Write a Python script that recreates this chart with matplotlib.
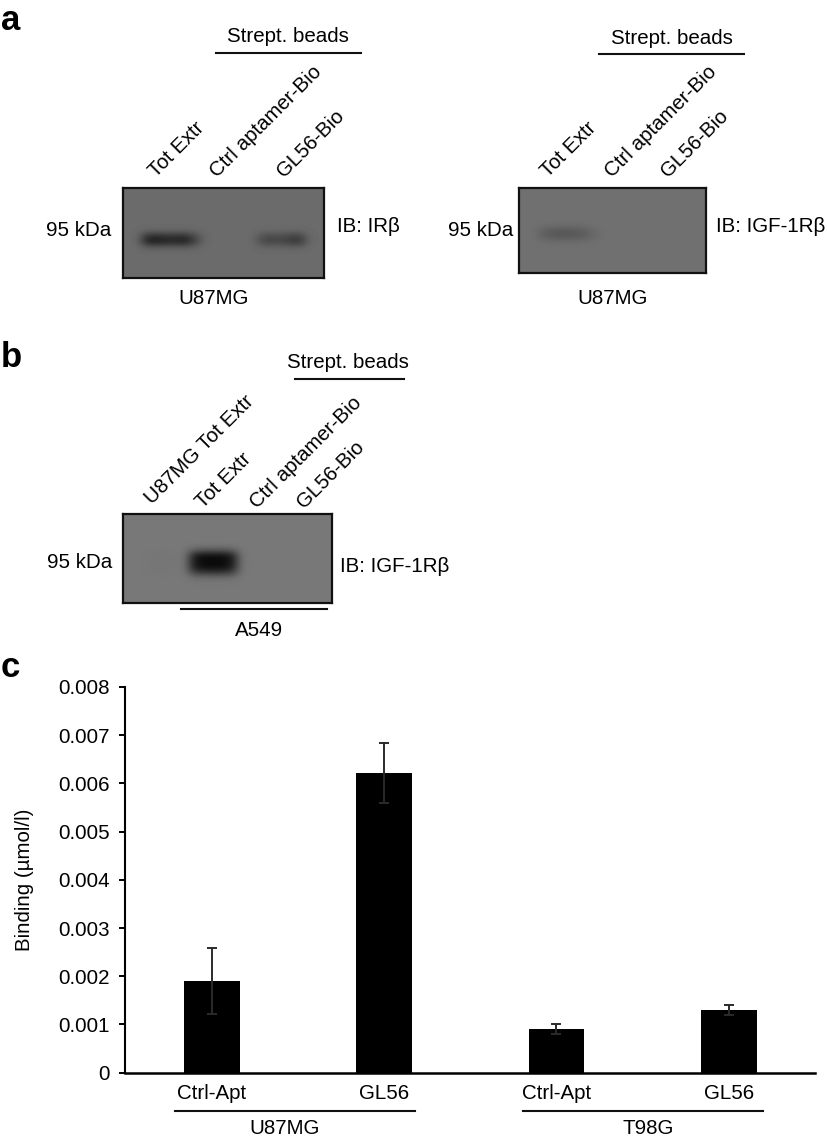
"""Panel figure: three immunoblots (a, b) and a binding bar chart (c)."""
import numpy as np
import matplotlib
matplotlib.use("Agg")
import matplotlib.pyplot as plt

W, H = 829, 1140

# bar chart values
categories = ["Ctrl-Apt", "GL56", "Ctrl-Apt", "GL56"]
binding = [0.0019, 0.00622, 0.00091, 0.0013]
binding_err = [0.00068, 0.00062, 0.00011, 0.00011]
y_ticks = [0, 0.001, 0.002, 0.003, 0.004, 0.005, 0.006, 0.007, 0.008]
y_tick_labels = ["0", "0.001", "0.002", "0.003", "0.004", "0.005", "0.006", "0.007", "0.008"]

# blot darkness read along the lanes (left to right) and across the band (top to bottom)
blot_a1_lanes = [0, 0.02, 0.9, 1, 0.9, 0.9, 0.95, 0.55, 0.03, 0, 0, 0, 0, 0, 0.4, 0.5, 0.45, 0.6, 0.65, 0.05, 0]
blot_a1_rows = [0, 0, 0, 0, 0, 0, 0, 0.06, 0.7, 0.95, 0.2, 0, 0, 0, 0, 0]
blot_a2_lanes = [0, 0, 0.55, 0.75, 0.85, 0.8, 0.65, 0.3, 0.02, 0, 0, 0, 0, 0, 0, 0, 0, 0, 0]
blot_a2_rows = [0, 0, 0, 0, 0, 0, 0.1, 0.75, 0.8, 0.15, 0, 0, 0, 0, 0]
blot_b_lanes = [0, 0, 0.01, 0.02, 0.02, 0.01, 0.02, 0.85, 1, 1, 1, 0.85, 0.03, 0, 0, 0, 0, 0, 0, 0, 0, 0]
blot_b_rows = [0, 0, 0, 0, 0, 0, 0.3, 0.98, 1, 0.98, 0.6, 0.08, 0.01, 0, 0, 0]


def px_axes(fig, x0, y0, x1, y1):
    """Axes placed from pixel corners of the figure (y measured from the top)."""
    return fig.add_axes([x0 / W, 1 - y1 / H, (x1 - x0) / W, (y1 - y0) / H])


def draw_blot(fig, box, lanes, rows, background, depth):
    """Draw one blot as a smoothed grey image with a black frame."""
    ax = px_axes(fig, *box)
    gel = background - depth * np.outer(rows, lanes)
    ax.imshow(gel, cmap="gray", vmin=0, vmax=1, aspect="auto", interpolation="bicubic")
    ax.set_xticks([])
    ax.set_yticks([])
    for spine in ax.spines.values():
        spine.set_linewidth(1.6)
        spine.set_color("#111111")


def main():
    plt.rcParams.update({"font.family": ["Liberation Sans", "DejaVu Sans"], "font.size": 14.8})
    fig = plt.figure(figsize=(W / 100, H / 100), dpi=100)

    draw_blot(fig, (123, 188, 324, 278), blot_a1_lanes, blot_a1_rows, 0.42, 0.34)
    draw_blot(fig, (519, 188, 706, 273), blot_a2_lanes, blot_a2_rows, 0.44, 0.15)
    draw_blot(fig, (123, 514, 332, 603), blot_b_lanes, blot_b_rows, 0.47, 0.43)

    # bar chart, panel c
    ax = px_axes(fig, 125.5, 687, 815, 1072.7)
    ax.patch.set_alpha(0)
    ax.bar(range(4), binding, width=0.324, color="black")
    ax.errorbar(range(4), binding, yerr=binding_err, fmt="none", ecolor="#2b2b2b",
                elinewidth=1.4, capsize=3.6, capthick=1.4)
    ax.set_xlim(-0.5, 3.5)
    ax.set_ylim(0, 0.008)
    ax.set_yticks(y_ticks)
    ax.set_yticklabels(y_tick_labels)
    ax.set_xticks(range(4))
    ax.set_xticklabels(categories)
    ax.tick_params(axis="x", length=0, pad=8)
    ax.tick_params(axis="y", length=4.5, width=1.4, pad=7)
    ax.spines["top"].set_visible(False)
    ax.spines["right"].set_visible(False)
    ax.spines["left"].set_linewidth(1.5)
    ax.spines["bottom"].set_linewidth(1.8)

    # labels and brackets are placed on an overlay in pixel coordinates
    top = fig.add_axes([0, 0, 1, 1])
    top.set_xlim(0, W)
    top.set_ylim(H, 0)
    top.axis("off")

    top.text(25, 880, "Binding (µmol/l)", rotation=90, ha="center", va="center")

    for x, y, letter in [(1, 30, "a"), (1, 367, "b"), (1, 677, "c")]:
        top.text(x, y, letter, fontsize=25, fontweight="bold", va="baseline")

    for x0, x1, y in [(216, 361, 53), (599, 744, 54), (295, 404, 379), (181, 327, 609),
                      (175, 415, 1110.5), (523, 763, 1110.5)]:
        top.plot([x0, x1], [y, y], color="#111111", lw=1.5)

    for x, y, label in [(288, 37, "Strept. beads"), (672, 38, "Strept. beads"),
                        (348, 363, "Strept. beads"), (214, 298, "U87MG"),
                        (613, 298, "U87MG"), (259, 630, "A549"),
                        (285, 1129, "U87MG"), (648, 1129, "T98G")]:
        top.text(x, y, label, ha="center", va="center")

    for x, y, label in [(111, 231, "95 kDa"), (513, 231, "95 kDa"), (112, 563, "95 kDa")]:
        top.text(x, y, label, ha="right", va="center")

    for x, y, label in [(337, 227, "IB: IRβ"), (716, 226, "IB: IGF-1Rβ"), (340, 566, "IB: IGF-1Rβ")]:
        top.text(x, y, label, ha="left", va="center")

    lane_labels = [(156, 178, "Tot Extr"), (217, 178, "Ctrl aptamer-Bio"), (284, 178, "GL56-Bio"),
                   (548, 178, "Tot Extr"), (612, 178, "Ctrl aptamer-Bio"), (668, 178, "GL56-Bio"),
                   (152, 505, "U87MG Tot Extr"), (203, 509, "Tot Extr"),
                   (257, 509, "Ctrl aptamer-Bio"), (304, 509, "GL56-Bio")]
    for x, y, label in lane_labels:
        top.text(x, y, label, rotation=45, rotation_mode="anchor", ha="left", va="baseline")

    fig.savefig("out.png", dpi=100)


if __name__ == "__main__":
    main()
